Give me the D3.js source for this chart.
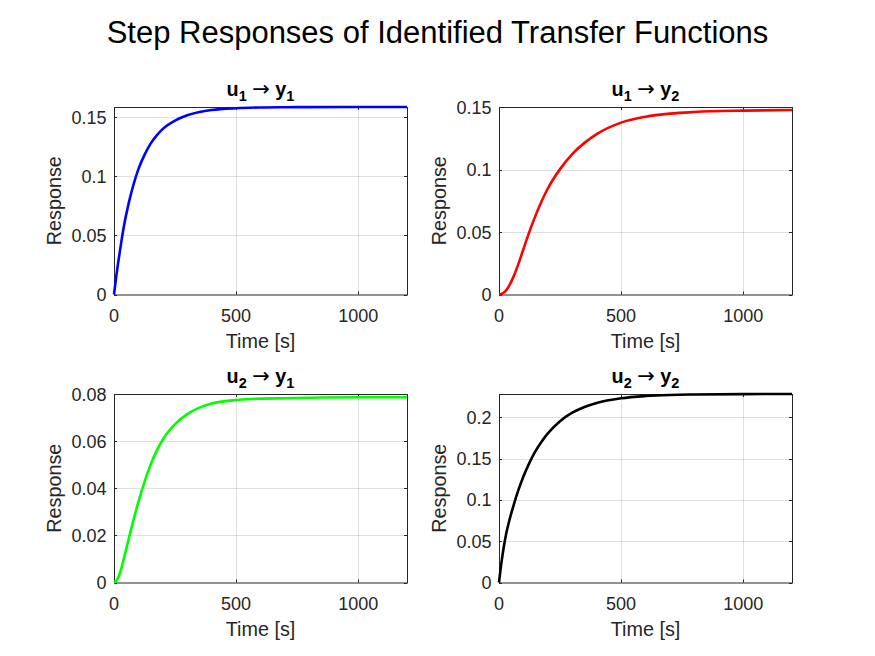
<!DOCTYPE html>
<html>
<head>
<meta charset="utf-8">
<script src="https://cdn.jsdelivr.net/npm/d3@7"></script>
<style>
  html, body { margin: 0; padding: 0; background: #ffffff; }
  svg { display: block; }
  text { font-family: "Liberation Sans", Arial, Helvetica, sans-serif; }
</style>
</head>
<body>
<svg id="chart" width="875" height="656"></svg>
<script>
// ---------------- data ----------------
const figureTitle = "Step Responses of Identified Transfer Functions";
const xLabel = "Time [s]";
const yLabel = "Response";

const timeSec = [0, 10, 20, 30, 40, 60, 80, 100, 125, 150, 175, 200, 250, 300, 350, 400, 500, 600, 700, 800, 1000, 1200];

const respU1Y1 = [0, 0.0165, 0.031, 0.0445, 0.057, 0.077, 0.093, 0.106, 0.118, 0.1275, 0.1345, 0.140, 0.147, 0.1515, 0.1543, 0.156, 0.1575, 0.1581, 0.1583, 0.1584, 0.1585, 0.1585];
const respU1Y2 = [0, 0.0004, 0.0016, 0.0036, 0.0065, 0.0145, 0.0247, 0.0363, 0.0505, 0.0633, 0.0748, 0.0848, 0.1003, 0.1123, 0.1213, 0.1283, 0.1375, 0.1422, 0.1447, 0.146, 0.1471, 0.1476];
const respU2Y1 = [0, 0.0008, 0.0028, 0.006, 0.01, 0.0184, 0.0266, 0.0342, 0.0427, 0.04995, 0.05595, 0.0607, 0.0672, 0.07145, 0.0742, 0.07595, 0.07745, 0.07805, 0.0782, 0.0784, 0.0786, 0.0786];
const respU2Y2 = [0, 0.024, 0.044, 0.060, 0.0724, 0.0938, 0.1124, 0.1283, 0.1452, 0.1593, 0.1709, 0.1806, 0.1954, 0.2056, 0.2126, 0.2175, 0.2231, 0.2258, 0.2271, 0.2277, 0.2282, 0.2283];

const seriesList   = [respU1Y1, respU1Y2, respU2Y1, respU2Y2];
const seriesColors = ["#0000ff", "#ff0000", "#00ff00", "#000000"];
const inputIdx     = [1, 1, 2, 2];
const outputIdx    = [1, 2, 1, 2];

const xDomain = [0, 1200];
const xTicks = [0, 500, 1000];
const yDomains = [[0, 0.1585], [0, 0.15], [0, 0.08], [0, 0.2283]];
const yTicksList = [
  [0, 0.05, 0.1, 0.15],
  [0, 0.05, 0.1, 0.15],
  [0, 0.02, 0.04, 0.06, 0.08],
  [0, 0.05, 0.1, 0.15, 0.2]
];

// ---------------- layout ----------------
const colLeft = [114, 499];
const axW = 293;
const rowTop = [107, 394];
const rowH = [187.5, 188.5];
const axisColor = "#262626";

const svg = d3.select("#chart");

svg.append("text")
  .attr("x", 437.5).attr("y", 43)
  .attr("text-anchor", "middle")
  .attr("font-size", 31)
  .attr("fill", "#000")
  .text(figureTitle);

seriesList.forEach((vals, k) => {
  const col = k % 2, row = Math.floor(k / 2);
  const L = colLeft[col], T = rowTop[row], W = axW, H = rowH[row];
  const x = d3.scaleLinear().domain(xDomain).range([L, L + W]);
  const y = d3.scaleLinear().domain(yDomains[k]).range([T + H, T]);
  const g = svg.append("g");
  const yTicks = yTicksList[k];

  // grid
  g.selectAll(".gx").data(xTicks.filter(d => d > xDomain[0] && d < xDomain[1])).enter()
    .append("line")
    .attr("x1", d => Math.round(x(d)) + 0.5).attr("x2", d => Math.round(x(d)) + 0.5)
    .attr("y1", T).attr("y2", T + H)
    .attr("stroke", axisColor).attr("stroke-opacity", 0.15).attr("stroke-width", 1);
  g.selectAll(".gy").data(yTicks.filter(d => d > yDomains[k][0] && d < yDomains[k][1])).enter()
    .append("line")
    .attr("y1", d => Math.round(y(d)) + 0.5).attr("y2", d => Math.round(y(d)) + 0.5)
    .attr("x1", L).attr("x2", L + W)
    .attr("stroke", axisColor).attr("stroke-opacity", 0.15).attr("stroke-width", 1);

  // box
  g.append("rect")
    .attr("x", L + 0.5).attr("y", T + 0.5).attr("width", W).attr("height", H)
    .attr("fill", "none").attr("stroke", axisColor).attr("stroke-width", 1);

  // ticks (inside, all four sides)
  const tl = 3;
  xTicks.forEach(d => {
    const px = Math.round(x(d)) + 0.5;
    g.append("line").attr("x1", px).attr("x2", px).attr("y1", T + H).attr("y2", T + H - tl).attr("stroke", axisColor);
    g.append("line").attr("x1", px).attr("x2", px).attr("y1", T).attr("y2", T + tl).attr("stroke", axisColor);
  });
  yTicks.forEach(d => {
    const py = Math.round(y(d)) + 0.5;
    g.append("line").attr("y1", py).attr("y2", py).attr("x1", L).attr("x2", L + tl).attr("stroke", axisColor);
    g.append("line").attr("y1", py).attr("y2", py).attr("x1", L + W).attr("x2", L + W - tl).attr("stroke", axisColor);
  });

  // tick labels
  g.selectAll(".xl").data(xTicks).enter().append("text")
    .attr("x", d => x(d)).attr("y", T + H + 27)
    .attr("text-anchor", "middle").attr("font-size", 18).attr("fill", axisColor)
    .text(d => String(d));
  g.selectAll(".yl").data(yTicks).enter().append("text")
    .attr("x", L - 7.5).attr("y", d => y(d) + 6.5)
    .attr("text-anchor", "end").attr("font-size", 18).attr("fill", axisColor)
    .text(d => String(d));

  // axis labels
  g.append("text")
    .attr("x", L + W / 2).attr("y", T + H + 53.5)
    .attr("text-anchor", "middle").attr("font-size", 19.8).attr("fill", axisColor)
    .text(xLabel);
  g.append("text")
    .attr("transform", `translate(${L - 53},${T + H / 2}) rotate(-90)`)
    .attr("text-anchor", "middle").attr("font-size", 19.8).attr("fill", axisColor)
    .text(yLabel);

  // subplot title  u_i -> y_j
  const tt = g.append("text")
    .attr("x", L + W / 2).attr("y", T - 11.5)
    .attr("text-anchor", "middle").attr("font-size", 19.8).attr("fill", "#000")
    .attr("font-weight", "bold");
  tt.append("tspan").text("u");
  tt.append("tspan").attr("font-size", 14.5).attr("dy", 5).text(inputIdx[k]);
  tt.append("tspan").attr("dy", -5).attr("font-weight", "normal").text(" ");
  tt.append("tspan").attr("font-weight", "normal")
    .style("font-family", "'DejaVu Sans', sans-serif").attr("font-size", 21).text("\u2192");
  tt.append("tspan").attr("font-weight", "normal").text(" ");
  tt.append("tspan").text("y");
  tt.append("tspan").attr("font-size", 14.5).attr("dy", 5).text(outputIdx[k]);

  // response curve
  const line = d3.line()
    .x((d, i) => x(timeSec[i]))
    .y(d => y(d))
    .curve(d3.curveMonotoneX);
  g.append("path")
    .datum(vals)
    .attr("d", line)
    .attr("fill", "none")
    .attr("stroke", seriesColors[k])
    .attr("stroke-width", 2.6)
    .attr("stroke-linejoin", "round");
});
</script>
</body>
</html>
